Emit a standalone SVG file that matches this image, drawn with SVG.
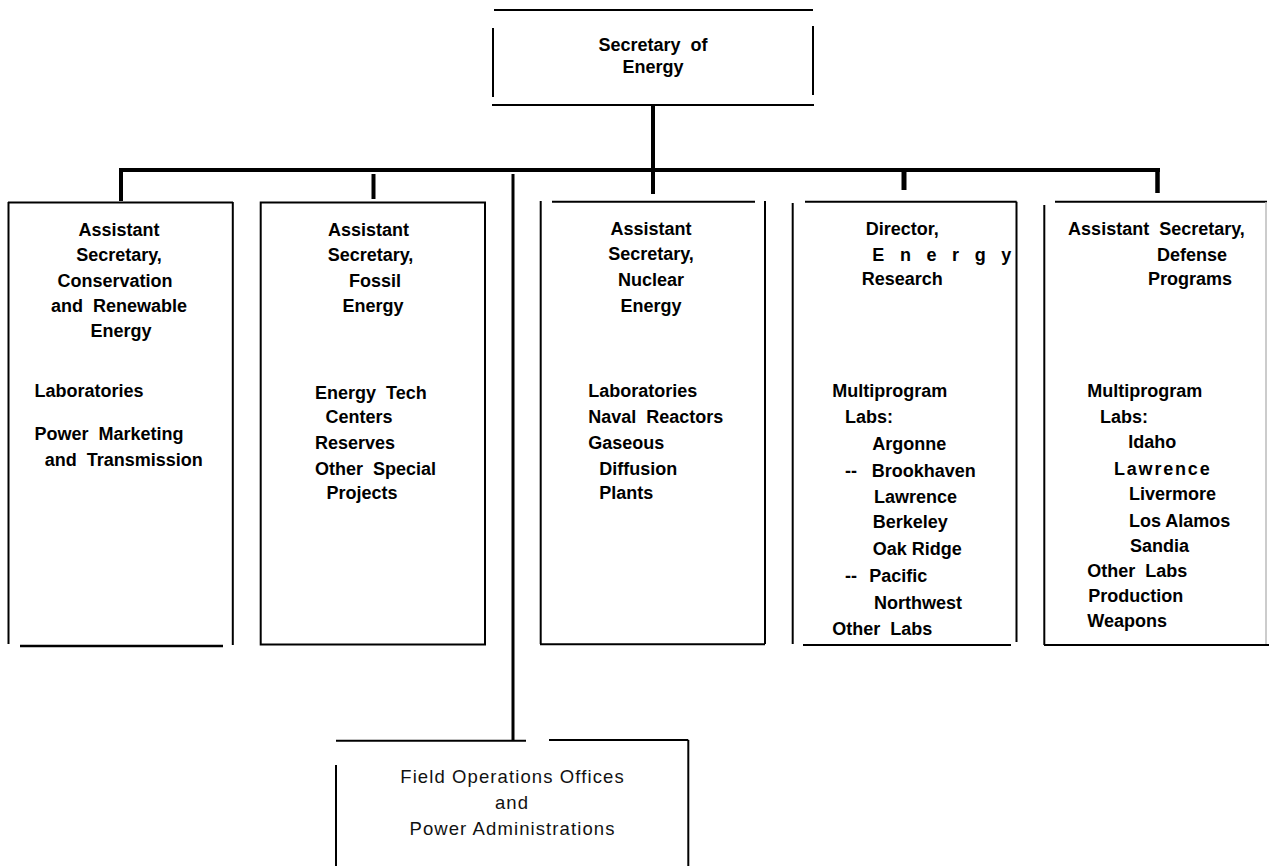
<svg xmlns="http://www.w3.org/2000/svg" width="1269" height="866" viewBox="0 0 1269 866">
<style>
.ln{stroke:#000;stroke-width:2;fill:none;stroke-linecap:butt}
.cn{stroke:#000;stroke-width:4;fill:none}
.t{font-family:"Liberation Sans",Arial,sans-serif;font-weight:bold;font-size:18px;fill:#000;white-space:pre}
.c{text-anchor:middle}
.r{font-family:"Liberation Sans",Arial,sans-serif;font-size:18.5px;letter-spacing:1.1px;fill:#111;text-anchor:middle;white-space:pre}
</style>
<rect width="1269" height="866" fill="#fff"/>
<g id="connectors">
<line class="cn" x1="653" y1="105" x2="653" y2="194"/>
<line class="cn" x1="120" y1="170" x2="1160" y2="170"/>
<line class="cn" x1="121" y1="168" x2="121" y2="201"/>
<line class="cn" x1="373.5" y1="174" x2="373.5" y2="199"/>
<line class="cn" x1="904" y1="172" x2="904" y2="190" style="stroke-width:5"/>
<line class="cn" x1="1157.5" y1="168" x2="1157.5" y2="193" style="stroke-width:4.5"/>
<line class="cn" x1="513" y1="174" x2="513" y2="740" style="stroke-width:3"/>
</g>
<g id="secretary">
<line class="ln" x1="494" y1="10" x2="813" y2="10"/>
<line class="ln" x1="493" y1="28" x2="493" y2="97"/>
<line class="ln" x1="813" y1="26" x2="813" y2="95"/>
<line class="ln" x1="492" y1="105" x2="814" y2="105"/>
<text class="t c" x="653" y="51">Secretary  of</text>
<text class="t c" x="653" y="73">Energy</text>
</g>
<g id="conservation">
<line class="ln" x1="8" y1="202.5" x2="233" y2="202.5"/>
<line class="ln" x1="8.5" y1="202" x2="8.5" y2="644"/>
<line class="ln" x1="232.8" y1="202" x2="232.8" y2="645"/>
<line class="ln" x1="20" y1="646" x2="223" y2="646" style="stroke-width:2.5"/>
<text class="t c" x="119" y="236">Assistant</text>
<text class="t c" x="119" y="261">Secretary,</text>
<text class="t c" x="115" y="286.5">Conservation</text>
<text class="t c" x="119" y="312">and  Renewable</text>
<text class="t c" x="121" y="336.5">Energy</text>
<text class="t" x="34.4" y="397">Laboratories</text>
<text class="t" x="34.4" y="440">Power  Marketing</text>
<text class="t" x="44.8" y="466">and  Transmission</text>
</g>
<g id="fossil">
<rect class="ln" x="260.7" y="202.5" width="224.3" height="442"/>
<text class="t c" x="368.5" y="236">Assistant</text>
<text class="t c" x="370.5" y="261">Secretary,</text>
<text class="t c" x="375" y="286.5">Fossil</text>
<text class="t c" x="373" y="311.7">Energy</text>
<text class="t" x="315" y="398.5">Energy  Tech</text>
<text class="t" x="325.4" y="422.7">Centers</text>
<text class="t" x="315" y="449.3">Reserves</text>
<text class="t" x="315" y="475">Other  Special</text>
<text class="t" x="326.4" y="499">Projects</text>
</g>
<g id="nuclear">
<line class="ln" x1="552" y1="201.7" x2="755" y2="201.7"/>
<line class="ln" x1="540.7" y1="201" x2="540.7" y2="644"/>
<line class="ln" x1="765" y1="201" x2="765" y2="644"/>
<line class="ln" x1="540" y1="644.3" x2="765" y2="644.3"/>
<text class="t c" x="651" y="235">Assistant</text>
<text class="t c" x="651" y="260">Secretary,</text>
<text class="t c" x="651" y="286">Nuclear</text>
<text class="t c" x="651" y="311.5">Energy</text>
<text class="t" x="588.3" y="397.3">Laboratories</text>
<text class="t" x="588.3" y="422.7">Naval  Reactors</text>
<text class="t" x="588.3" y="449.3">Gaseous</text>
<text class="t" x="599.3" y="475">Diffusion</text>
<text class="t" x="599.3" y="499.3">Plants</text>
</g>
<g id="energy-research">
<line class="ln" x1="805" y1="201.7" x2="1016.7" y2="201.7"/>
<line class="ln" x1="792.7" y1="203" x2="792.7" y2="644"/>
<line class="ln" x1="1016.5" y1="201.7" x2="1016.5" y2="642"/>
<line class="ln" x1="803" y1="645" x2="1011" y2="645"/>
<text class="t" x="865.7" y="235">Director,</text>
<text class="t" x="872.3" y="260.7" style="letter-spacing:15.6px">Energy</text>
<text class="t" x="861.7" y="285">Research</text>
<text class="t" x="832.3" y="396.7">Multiprogram</text>
<text class="t" x="845" y="423.3">Labs:</text>
<text class="t" x="872.3" y="450">Argonne</text>
<text class="t" x="845" y="476.7">--</text>
<text class="t" x="871.7" y="476.7">Brookhaven</text>
<text class="t" x="874" y="503.3">Lawrence</text>
<text class="t" x="872.7" y="528.3">Berkeley</text>
<text class="t" x="872.7" y="555">Oak Ridge</text>
<text class="t" x="845" y="581.7">--</text>
<text class="t" x="869.3" y="581.7">Pacific</text>
<text class="t" x="874" y="609.3">Northwest</text>
<text class="t" x="832.3" y="635">Other  Labs</text>
</g>
<g id="defense">
<line class="ln" x1="1055" y1="201.7" x2="1267" y2="201.7"/>
<line class="ln" x1="1044.3" y1="205" x2="1044.3" y2="645"/>
<line x1="1266" y1="202" x2="1266" y2="645" stroke="#bbb" stroke-width="1.5"/>
<line class="ln" x1="1044" y1="645" x2="1269" y2="645"/>
<text class="t c" x="1156.5" y="235">Assistant  Secretary,</text>
<text class="t c" x="1192" y="260.7">Defense</text>
<text class="t c" x="1190" y="285">Programs</text>
<text class="t" x="1087.3" y="396.7">Multiprogram</text>
<text class="t" x="1100" y="422.7">Labs:</text>
<text class="t" x="1128.3" y="448.3">Idaho</text>
<text class="t" x="1114" y="475" style="letter-spacing:1.8px">Lawrence</text>
<text class="t" x="1129" y="500">Livermore</text>
<text class="t" x="1129" y="526.7">Los Alamos</text>
<text class="t" x="1130" y="551.7">Sandia</text>
<text class="t" x="1087.3" y="576.7">Other  Labs</text>
<text class="t" x="1088.3" y="601.7">Production</text>
<text class="t" x="1087.3" y="626.7">Weapons</text>
</g>
<g id="field-operations">
<line class="ln" x1="336" y1="740.7" x2="526" y2="740.7"/>
<line class="ln" x1="549" y1="740" x2="688.3" y2="740"/>
<line class="ln" x1="688.3" y1="740" x2="688.3" y2="866"/>
<line class="ln" x1="336" y1="765" x2="336" y2="866"/>
<text class="r" x="512.5" y="783.3">Field Operations Offices</text>
<text class="r" x="512" y="809.3">and</text>
<text class="r" x="512.5" y="835">Power Administrations</text>
</g>
</svg>
